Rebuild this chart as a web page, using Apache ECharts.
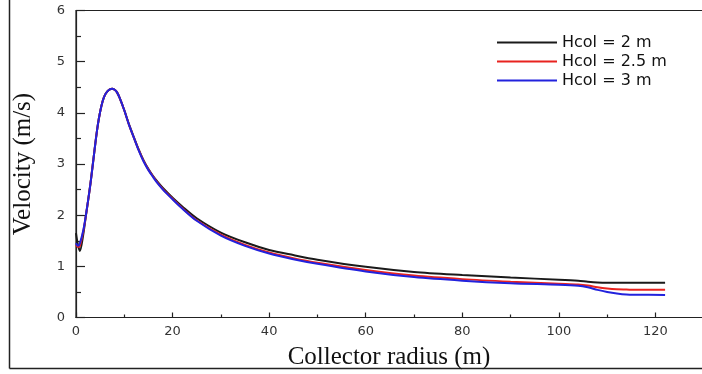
<!DOCTYPE html>
<html>
<head>
<meta charset="utf-8">
<script src="https://cdn.jsdelivr.net/npm/echarts@6/dist/echarts.min.js"></script>
<style>html,body{margin:0;padding:0;background:#fff;}#c{width:702px;height:374px;}</style>
</head>
<body>
<div id="c"></div>
<script>
const seriesNames = ['Hcol = 2 m', 'Hcol = 2.5 m', 'Hcol = 3 m'];
const radius = [0, 0.4, 0.8, 1.5, 2, 3, 4, 4.5, 5, 5.5, 6, 6.5, 7, 7.5, 8, 8.5, 9, 10, 11, 12, 13, 14, 15, 16, 17, 18, 20, 22, 25, 30, 35, 40, 45, 50, 60, 70, 80, 90, 100, 104, 106, 108, 110, 112, 114, 116, 122];
const velH2 = [1.65, 1.42, 1.30, 1.62, 1.95, 2.62, 3.40, 3.75, 4.02, 4.22, 4.35, 4.42, 4.46, 4.47, 4.45, 4.40, 4.30, 4.05, 3.77, 3.52, 3.28, 3.07, 2.90, 2.76, 2.64, 2.53, 2.34, 2.17, 1.94, 1.66, 1.47, 1.32, 1.22, 1.13, 0.99, 0.89, 0.83, 0.78, 0.74, 0.72, 0.70, 0.685, 0.68, 0.68, 0.68, 0.68, 0.68];
const velH25 = [1.42, 1.38, 1.40, 1.68, 1.96, 2.62, 3.40, 3.75, 4.02, 4.22, 4.35, 4.42, 4.46, 4.47, 4.45, 4.40, 4.30, 4.05, 3.76, 3.51, 3.27, 3.06, 2.89, 2.75, 2.62, 2.51, 2.32, 2.14, 1.90, 1.62, 1.42, 1.27, 1.16, 1.07, 0.93, 0.82, 0.75, 0.70, 0.66, 0.645, 0.625, 0.59, 0.565, 0.55, 0.545, 0.54, 0.54];
const velH3 = [1.45, 1.40, 1.45, 1.70, 1.97, 2.62, 3.40, 3.75, 4.02, 4.22, 4.35, 4.42, 4.46, 4.47, 4.45, 4.40, 4.30, 4.05, 3.76, 3.51, 3.26, 3.05, 2.88, 2.74, 2.61, 2.50, 2.31, 2.13, 1.89, 1.60, 1.40, 1.25, 1.14, 1.05, 0.90, 0.79, 0.72, 0.67, 0.64, 0.62, 0.59, 0.54, 0.50, 0.47, 0.45, 0.445, 0.44];
const xTicks = [0, 20, 40, 60, 80, 100, 120];
const yTicks = [0, 1, 2, 3, 4, 5, 6];

const colors = ['#1a1a1a', '#e8231f', '#2222dd'];
const allVel = [velH2, velH25, velH3];

const chart = echarts.init(document.getElementById('c'), null, {renderer: 'canvas'});
const axisColor = '#222';
chart.setOption({
  animation: false,
  backgroundColor: '#fff',
  color: colors,
  grid: {left: 76, top: 10.5, width: 676, height: 307, outerBoundsMode: 'none', containLabel: false,
    show: true, borderColor: axisColor, borderWidth: 1.2, backgroundColor: 'transparent'},
  legend: {
    show: true, orient: 'vertical', left: 492, top: 28, itemGap: 0,
    itemWidth: 60, itemHeight: 2, icon: 'rect',
    textStyle: {fontFamily: 'DejaVu Sans', fontSize: 16, color: '#111', lineHeight: 19},
    data: seriesNames
  },
  xAxis: {
    type: 'value', min: 0, max: 140, interval: 20,
    name: 'Collector radius (m)', nameLocation: 'middle', nameGap: 27,
    nameTextStyle: {fontFamily: 'Liberation Serif', fontSize: 25, color: '#111', padding: [0, 50, 0, 0]},
    axisLine: {show: true, lineStyle: {color: axisColor, width: 1.2}},
    axisTick: {show: true, inside: true, length: 5, lineStyle: {color: axisColor, width: 1.2}},
    minorTick: {show: true, splitNumber: 2, length: 3, lineStyle: {color: axisColor, width: 1.2}},
    splitLine: {show: false},
    axisLabel: {fontFamily: 'DejaVu Sans', fontSize: 13, color: '#333', margin: 8,
      formatter: v => xTicks.includes(v) ? String(v) : ''}
  },
  yAxis: {
    type: 'value', min: 0, max: 6, interval: 1,
    name: 'Velocity (m/s)', nameLocation: 'middle', nameGap: 40,
    nameTextStyle: {fontFamily: 'Liberation Serif', fontSize: 25, color: '#111'},
    axisLine: {show: true, lineStyle: {color: axisColor, width: 1.2}},
    axisTick: {show: true, inside: true, length: 9, lineStyle: {color: axisColor, width: 1.2}},
    minorTick: {show: true, splitNumber: 2, length: 5, lineStyle: {color: axisColor, width: 1.2}},
    splitLine: {show: false},
    axisLabel: {fontFamily: 'DejaVu Sans', fontSize: 13, color: '#333', margin: 11,
      formatter: v => yTicks.includes(v) ? String(v) : ''}
  },
  graphic: [
    {type: 'line', shape: {x1: 9.5, y1: 0, x2: 9.5, y2: 368.5}, style: {stroke: '#222', lineWidth: 1.5}, silent: true},
    {type: 'line', shape: {x1: 9.5, y1: 368.5, x2: 702, y2: 368.5}, style: {stroke: '#222', lineWidth: 1.5}, silent: true}
  ],
  series: seriesNames.map((n, i) => ({
    name: n, type: 'line', showSymbol: false, smooth: 0.3, z: 2 + i,
    lineStyle: {width: 2, color: colors[i]},
    itemStyle: {color: colors[i]},
    data: radius.map((r, k) => [r, allVel[i][k]])
  }))
});
</script>
</body>
</html>
